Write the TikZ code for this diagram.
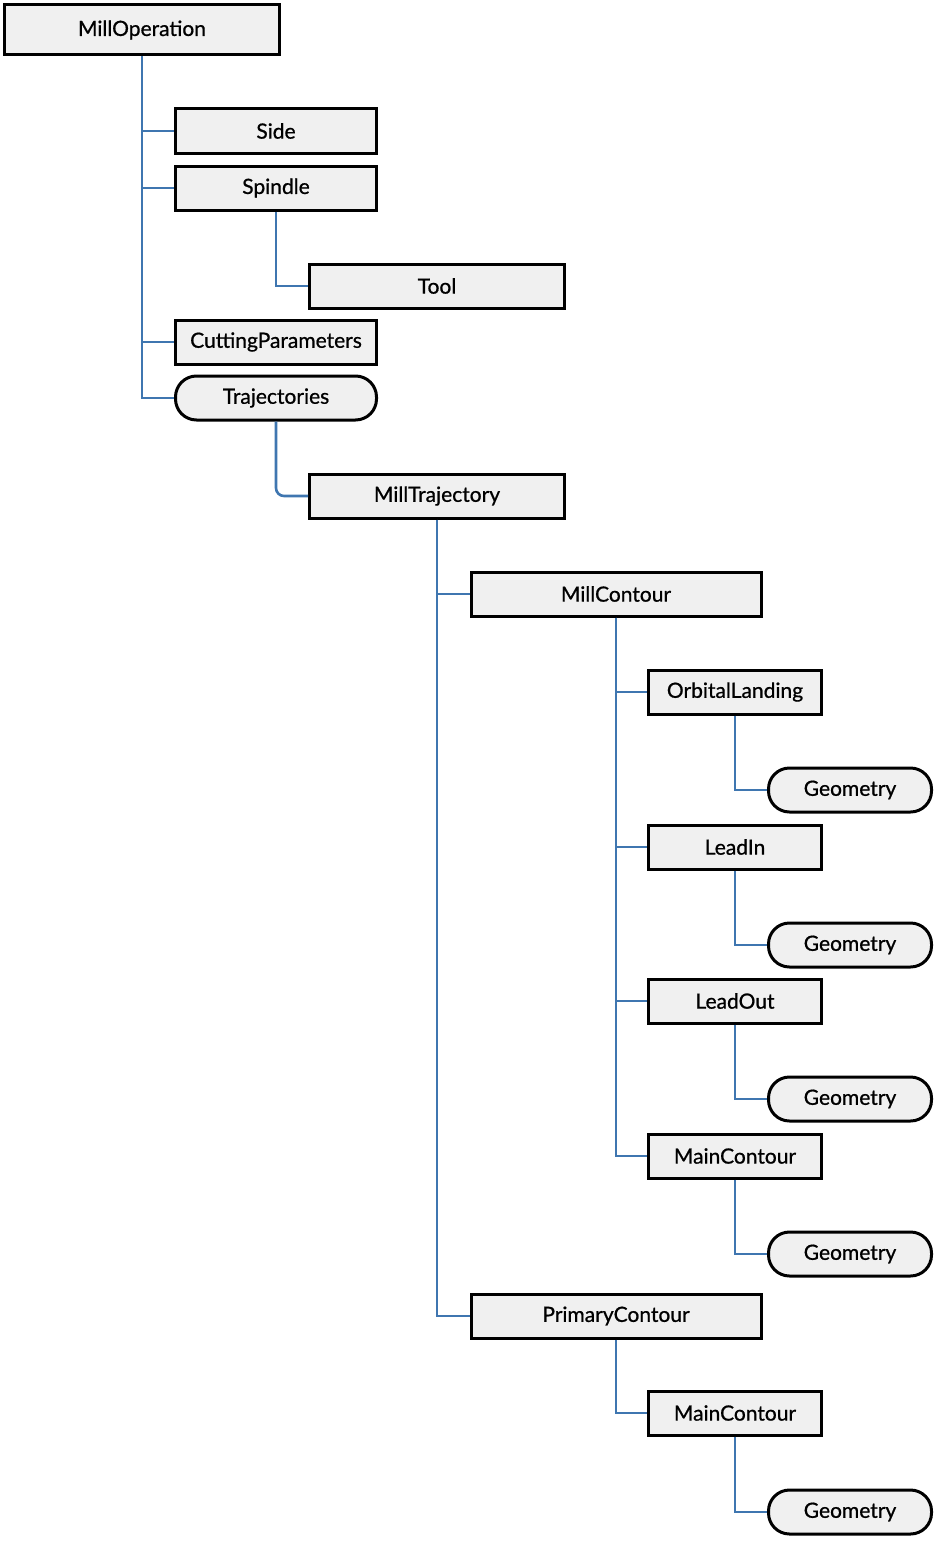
\documentclass[tikz,border=0pt]{standalone}
\usepackage{fontspec}
\setmainfont{Lato}
\newfontfamily\labelfont{Lato}[FakeBold=0.8]
\usepackage{tikz}
\usetikzlibrary{positioning}
\definecolor{linkblue}{HTML}{3F76B0}
\definecolor{boxgray}{HTML}{F0F0F0}

\begin{document}
\begin{tikzpicture}[
			x=1pt,y=-1pt,
			every node/.style={font=\labelfont\fontsize{21}{24}\selectfont,align=center},
			box/.style={draw=black,line width=3pt,fill=boxgray,minimum height=44pt,inner sep=0pt},
			pill/.style={box,rounded corners=21pt},
			conn/.style={draw=linkblue,line width=2.6pt}
			]
			\useasboundingbox (0,0) rectangle (937,1544);
			% tree nodes
			\node[box,minimum width=275pt,minimum height=50pt] (op) at (142,30) {MillOperation};
			\node[box,minimum width=201pt] (side) at (276,131) {Side};
			\node[box,minimum width=201pt] (spindle) at (276,188) {Spindle};
			\node[box,minimum width=255pt] (tool) at (437,286) {Tool};
			\node[box,minimum width=201pt] (cutpar) at (276,342) {CuttingParameters};
			\node[pill,minimum width=201pt] (traj) at (276,398) {Trajectories};
			\node[box,minimum width=255pt] (milltraj) at (437,496) {MillTrajectory};
			\node[box,minimum width=290pt] (millcont) at (616,594) {MillContour};
			\node[box,minimum width=173pt] (orbital) at (735,692) {OrbitalLanding};
			\node[pill,minimum width=163pt] (geoa) at (850,790) {Geometry};
			\node[box,minimum width=173pt] (leadin) at (735,847) {LeadIn};
			\node[pill,minimum width=163pt] (geob) at (850,945) {Geometry};
			\node[box,minimum width=173pt] (leadout) at (735,1001) {LeadOut};
			\node[pill,minimum width=163pt] (geoc) at (850,1099) {Geometry};
			\node[box,minimum width=173pt] (mainc) at (735,1156) {MainContour};
			\node[pill,minimum width=163pt] (geod) at (850,1254) {Geometry};
			\node[box,minimum width=290pt] (primc) at (616,1316) {PrimaryContour};
			\node[box,minimum width=173pt] (maind) at (735,1413) {MainContour};
			\node[pill,minimum width=163pt] (geoe) at (850,1512) {Geometry};
			% connectors
			\draw[conn] (op.south) |- (side.west);
			\draw[conn] (op.south) |- (spindle.west);
			\draw[conn] (op.south) |- (cutpar.west);
			\draw[conn] (op.south) |- (traj.west);
			\draw[conn] (spindle.south) |- (tool.west);
			\draw[conn,rounded corners=8pt] (traj.south) |- (milltraj.west);
			\draw[conn] (milltraj.south) |- (millcont.west);
			\draw[conn] (milltraj.south) |- (primc.west);
			\draw[conn] (millcont.south) |- (orbital.west);
			\draw[conn] (millcont.south) |- (leadin.west);
			\draw[conn] (millcont.south) |- (leadout.west);
			\draw[conn] (millcont.south) |- (mainc.west);
			\draw[conn] (orbital.south) |- (geoa.west);
			\draw[conn] (leadin.south) |- (geob.west);
			\draw[conn] (leadout.south) |- (geoc.west);
			\draw[conn] (mainc.south) |- (geod.west);
			\draw[conn] (primc.south) |- (maind.west);
			\draw[conn] (maind.south) |- (geoe.west);
		\end{tikzpicture}
\end{document}
